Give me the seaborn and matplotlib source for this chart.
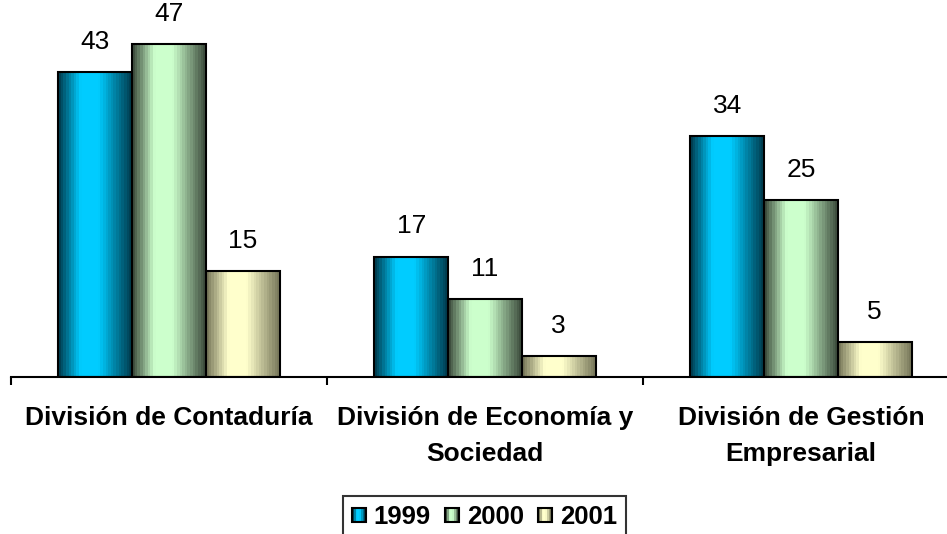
import numpy as np
import pandas as pd
import matplotlib
matplotlib.use("Agg")
import matplotlib.pyplot as plt
import seaborn as sns
from matplotlib.patches import Rectangle, Patch
from matplotlib.legend_handler import HandlerBase
from matplotlib.ticker import FixedLocator

categories = ["División de Contaduría", "División de Economía y\nSociedad", "División de Gestión\nEmpresarial"]
years = ["1999", "2000", "2001"]
values_1999 = [43, 17, 34]
values_2000 = [47, 11, 25]
values_2001 = [15, 3, 5]

light_colors = {"1999": "#00CCFF", "2000": "#CCFFCC", "2001": "#FFFFCC"}
dark_colors = {"1999": "#003F52", "2000": "#3F4F3F", "2001": "#7A7A5C"}

rows = []
for yr, vals in zip(years, [values_1999, values_2000, values_2001]):
    for c, v in zip(categories, vals):
        rows.append({"cat": c, "year": yr, "val": v})
df = pd.DataFrame(rows)

sns.set_style("white")
plt.rcParams["font.family"] = ["Liberation Sans", "DejaVu Sans"]
plt.rcParams["text.color"] = "black"
plt.rcParams["xtick.color"] = "black"
plt.rcParams["xtick.labelcolor"] = "black"

W, H = 947, 534
fig = plt.figure(figsize=(W / 100, H / 100), dpi=100)
ax_left, ax_right = 11, 959
ax_bottom_px, ax_top_px = 377, 8.5
ax = fig.add_axes([ax_left / W, (H - ax_bottom_px) / H, (ax_right - ax_left) / W,
                   (ax_bottom_px - ax_top_px) / H])

sns.barplot(data=df, x="cat", y="val", hue="year", hue_order=years, order=categories,
            width=0.7, ax=ax, legend=False, edgecolor="black", linewidth=1.5,
            saturation=1)


def profile(n=24):
    t = np.linspace(0, 1, n)
    f = np.interp(t, [0, 0.3, 0.55, 1.0], [0.0, 1.0, 1.0, 0.0])
    return f


def grad_rgb(yr, n=28):
    d = np.array(matplotlib.colors.to_rgb(dark_colors[yr]))
    l = np.array(matplotlib.colors.to_rgb(light_colors[yr]))
    f = profile(n)[:, None]
    return d + (l - d) * f


for yr, cont in zip(years, ax.containers):
    img = grad_rgb(yr)[None, :, :]
    for p in cont.patches:
        x0, y0 = p.get_x(), p.get_y()
        w, h = p.get_width(), p.get_height()
        im = ax.imshow(img, extent=[x0, x0 + w, y0, y0 + h], aspect="auto",
                       interpolation="nearest", zorder=p.get_zorder() - 0.1)
        im.set_clip_path(p)
        p.set_facecolor("none")
        p.set_zorder(p.get_zorder() + 0.5)
    ax.bar_label(cont, labels=[str(int(v)) for v in cont.datavalues], padding=13,
                 fontsize=19, color="black")

ax.set_xlim(-0.5, 2.5)
ax.set_ylim(0, 52)
ax.set_aspect("auto")

ax.set_xlabel("")
ax.set_ylabel("")
ax.set_yticks([])
for s in ["top", "right", "left"]:
    ax.spines[s].set_visible(False)
ax.spines["bottom"].set_linewidth(1.5)
ax.spines["bottom"].set_color("black")

ax.set_xticks(range(3))
ax.set_xticklabels(categories, fontsize=19, fontweight="bold", linespacing=1.6, color="black")
ax.tick_params(axis="x", which="major", length=0, pad=21, bottom=True)
ax.xaxis.set_minor_locator(FixedLocator([-0.5, 0.5, 1.5, 2.5]))
ax.tick_params(axis="x", which="minor", length=6, width=1.5, color="black",
               direction="out", bottom=True)


class GradHandler(HandlerBase):
    def __init__(self, yr):
        super().__init__()
        self.yr = yr

    def create_artists(self, legend, orig_handle, xdescent, ydescent, width, height, fontsize, trans):
        s = min(width, height)
        x0 = -xdescent + (width - s) / 2
        y0 = -ydescent + (height - s) / 2
        cols = grad_rgb(self.yr, 8)
        n = len(cols)
        arts = []
        for i, c in enumerate(cols):
            arts.append(Rectangle((x0 + i * s / n, y0), s / n, s, facecolor=c,
                                  edgecolor="none", transform=trans))
        arts.append(Rectangle((x0, y0), s, s, fill=False, edgecolor="black",
                              linewidth=1.5, transform=trans))
        return arts


handles = [Patch(label=yr) for yr in years]
hmap = {h: GradHandler(yr) for h, yr in zip(handles, years)}
leg = fig.legend(handles=handles, labels=years, handler_map=hmap, ncol=3,
                 loc="upper center", bbox_to_anchor=(484.5 / W, 1 - 496 / H),
                 prop={"size": 18.5, "weight": "bold"}, frameon=True, fancybox=False,
                 handlelength=0.55, handleheight=0.55, handletextpad=0.3,
                 columnspacing=0.55, borderpad=0.35, borderaxespad=0)
leg.get_frame().set_edgecolor("black")
leg.get_frame().set_linewidth(1.5)
for t in leg.get_texts():
    t.set_color("black")

fig.savefig("out.png", dpi=100)
